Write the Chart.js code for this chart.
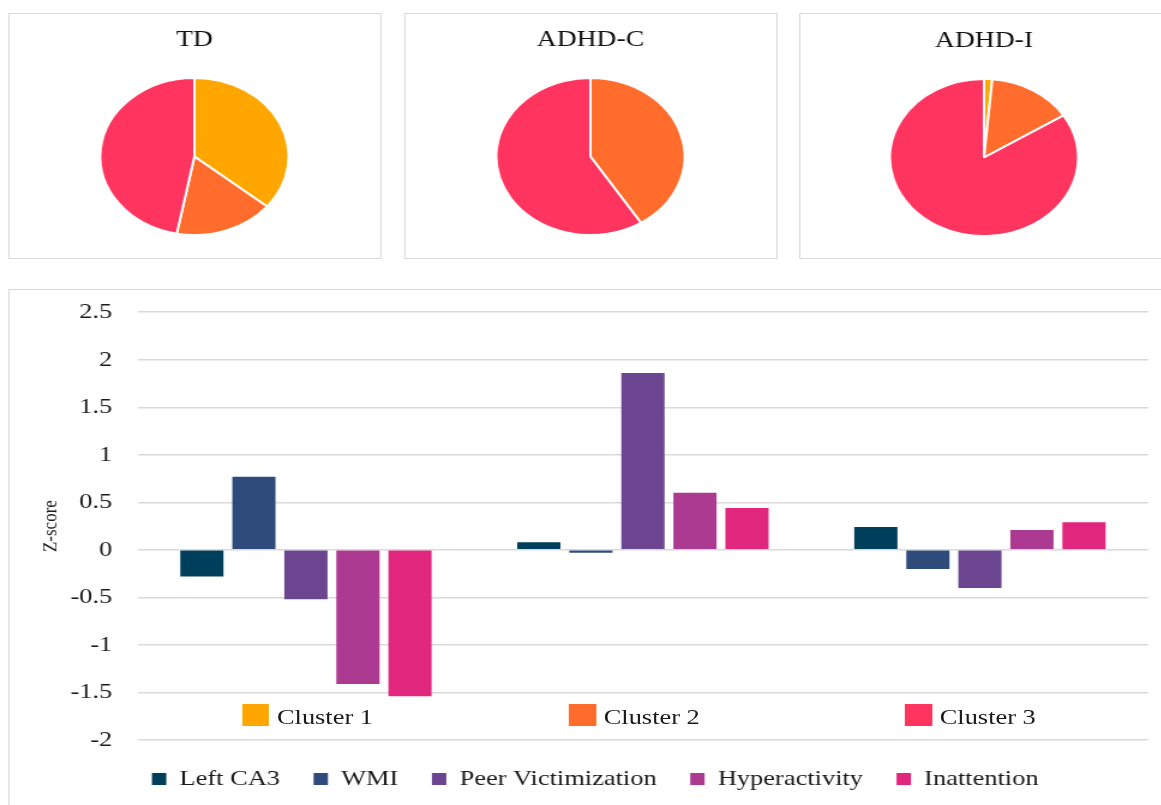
<!DOCTYPE html>
<html>
<head>
<meta charset="utf-8">
<title>Clusters by group</title>
<script src="https://cdn.jsdelivr.net/npm/chart.js@4"></script>
<style>
    body { margin: 0; background: #fff; overflow: hidden; }
    /* the original figure is stretched horizontally by ~1.2, so the whole page is too */
    #page {
        position: absolute; left: 0; top: 0;
        width: 968px; height: 805px;
        transform: scaleX(1.2); transform-origin: 0 0;
        font-family: "Liberation Serif", "Times New Roman", serif;
    }
    .panel { position: absolute; border: 1.5px solid #d9d9d9; box-sizing: border-box; }
    canvas { position: absolute; }
    .key {
        position: absolute; top: 704px;
        display: flex; align-items: flex-start;
        font-size: 22px; line-height: 22px; color: #1a1a1a;
    }
    .key .sw { width: 22.5px; height: 22px; margin-right: 6.6px; }
    .key .txt { padding-top: 2px; }
</style>
</head>
<body>
<div id="page">
    <div class="panel" style="left:6.7px; top:13px; width:311.6px; height:246px;"></div>
    <div class="panel" style="left:336.7px; top:13px; width:311.6px; height:246px;"></div>
    <div class="panel" style="left:665.8px; top:13px; width:330px; height:246px;"></div>
    <div class="panel" style="left:6.7px; top:289px; width:1000px; height:600px;"></div>

    <canvas id="pieTD" width="300" height="216" style="left:12.1px; top:20px;"></canvas>
    <canvas id="pieC" width="300" height="216" style="left:341.7px; top:20px;"></canvas>
    <canvas id="pieI" width="300" height="216" style="left:670.4px; top:21px;"></canvas>

    <!-- canvas starts a bit above the panel: the y tick padding reserves room on top -->
    <canvas id="bars" width="978" height="522" style="left:6.7px; top:278px;"></canvas>

    <div id="clusterKey"></div>
</div>

<script>
// groups shown as pies, share of each cluster (%)
const clusterNames = ['Cluster 1', 'Cluster 2', 'Cluster 3'];
const clusterColors = ['#ffa600', '#ff6c2b', '#ff3560'];
const tdShares = [36, 17, 47];
const adhdCShares = [0, 41, 59];
const adhdIShares = [1.4, 14.6, 84];

// z-scores per measure, one value per cluster
const measureNames = ['Left CA3', 'WMI', 'Peer Victimization', 'Hyperactivity', 'Inattention'];
const measureColors = ['#003f5c', '#2f4b7c', '#6b4590', '#ad3a91', '#e0267d'];
const leftCA3 = [-0.28, 0.08, 0.24];
const wmi = [0.77, -0.03, -0.20];
const peerVictimization = [-0.52, 1.86, -0.40];
const hyperactivity = [-1.41, 0.60, 0.21];
const inattention = [-1.54, 0.44, 0.29];

const yMin = -2;
const yMax = 2.5;
const yStep = 0.5;

const serif = '"Liberation Serif", "Times New Roman", serif';
const textColor = '#1a1a1a';

function makePie(id, title, shares) {
    const ctx = document.getElementById(id);
    return new Chart(ctx, {
        type: 'pie',
        data: {
            labels: clusterNames,
            datasets: [{
                data: shares,
                backgroundColor: clusterColors,
                borderColor: '#ffffff',
                borderWidth: 2,
                offset: 0,
                hoverOffset: 0
            }]
        },
        options: {
            responsive: false,
            animation: false,
            plugins: {
                legend: { display: false },
                tooltip: { enabled: false },
                title: {
                    display: true,
                    text: title,
                    color: '#111',
                    font: { family: serif, size: 23, weight: 'normal' },
                    padding: { top: 6, bottom: 23.4 }
                }
            }
        }
    });
}

function makeBars() {
    const ctx = document.getElementById('bars');
    const series = [leftCA3, wmi, peerVictimization, hyperactivity, inattention];
    return new Chart(ctx, {
        type: 'bar',
        data: {
            labels: clusterNames,
            datasets: measureNames.map((name, i) => ({
                label: name,
                data: series[i],
                backgroundColor: measureColors[i],
                borderWidth: 0
            }))
        },
        options: {
            responsive: false,
            animation: false,
            layout: { padding: 0 },
            datasets: { bar: { categoryPercentage: 0.772, barPercentage: 0.83 } },
            scales: {
                x: { display: false },
                y: {
                    min: yMin,
                    max: yMax,
                    ticks: {
                        stepSize: yStep,
                        padding: 21,
                        color: textColor,
                        font: { family: serif, size: 22 },
                        callback: value => String(value)
                    },
                    grid: { color: '#d9d9d9', lineWidth: 1.5, drawTicks: false },
                    border: { display: false },
                    title: {
                        display: true,
                        text: 'Z-score',
                        color: textColor,
                        font: { family: serif, size: 17 },
                        padding: { top: 25, bottom: 0 }
                    },
                    afterFit: scale => { scale.width = 107.5; }
                },
                // empty spacer on the right so the bottom legend sits where the original one is
                spacer: {
                    type: 'linear',
                    position: 'right',
                    grid: { display: false },
                    ticks: { display: false },
                    border: { display: false },
                    afterFit: scale => { scale.width = 28; }
                }
            },
            plugins: {
                legend: {
                    position: 'bottom',
                    labels: {
                        boxWidth: 12,
                        boxHeight: 12,
                        padding: 28,
                        color: textColor,
                        font: { family: serif, size: 22 }
                    }
                },
                tooltip: { enabled: false }
            }
        }
    });
}

// legend of the pie clusters, placed inside the bar panel like the original
function buildClusterKey() {
    const holder = document.getElementById('clusterKey');
    const lefts = [201.7, 474, 754];
    clusterNames.forEach((name, i) => {
        const item = document.createElement('div');
        item.className = 'key';
        item.style.left = lefts[i] + 'px';
        item.innerHTML = `<span class="sw" style="background:${clusterColors[i]}"></span><span class="txt">${name}</span>`;
        holder.appendChild(item);
    });
}

makePie('pieTD', 'TD', tdShares);
makePie('pieC', 'ADHD-C', adhdCShares);
makePie('pieI', 'ADHD-I', adhdIShares);
makeBars();
buildClusterKey();
</script>
</body>
</html>
